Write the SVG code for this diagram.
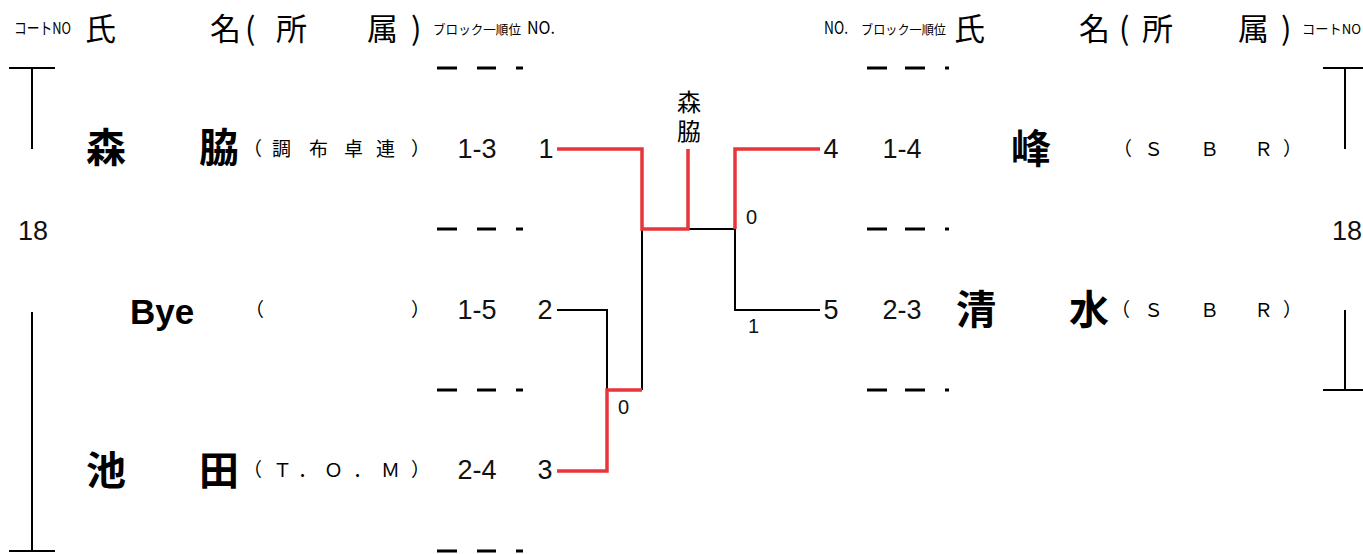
<svg xmlns="http://www.w3.org/2000/svg" width="1363" height="554" viewBox="0 0 1363 554">
<style>
.cjk{font-family:"Noto Sans CJK JP","Noto Sans CJK SC",sans-serif;fill:#000}
.hd{font-size:31px}
.nm{font-size:40px;font-weight:bold}
.af{font-size:19px}
.num{font-family:"Liberation Sans",Arial,sans-serif;font-size:27px;fill:#111;text-anchor:middle}
.lab{font-family:"Liberation Sans",Arial,sans-serif;font-size:20px;fill:#111}
.blk{stroke:#000;stroke-width:2;fill:none}
.red{stroke:#e8353a;stroke-width:3.5;fill:none}
.dash{stroke:#000;stroke-width:3}
</style>
<g id="header">
<text class="cjk" y="40"><tspan x="14" y="34" font-size="16" textLength="57" lengthAdjust="spacingAndGlyphs">コートNO</tspan><tspan class="hd" x="85" y="40">氏</tspan><tspan class="hd" x="210" y="40">名</tspan><tspan class="hd" x="245" y="40">(</tspan><tspan class="hd" x="276" y="40">所</tspan><tspan class="hd" x="367" y="40">属</tspan><tspan class="hd" x="411" y="40">)</tspan><tspan x="433" y="34" font-size="13" textLength="88" lengthAdjust="spacingAndGlyphs">ブロック一順位</tspan><tspan x="527" y="34" font-size="17" textLength="28" lengthAdjust="spacingAndGlyphs">NO.</tspan></text>
<text class="cjk" y="40"><tspan x="824" y="34" font-size="17" textLength="24" lengthAdjust="spacingAndGlyphs">NO.</tspan><tspan x="861" y="34" font-size="13" textLength="85" lengthAdjust="spacingAndGlyphs">ブロック一順位</tspan><tspan class="hd" x="954" y="40">氏</tspan><tspan class="hd" x="1079" y="40">名</tspan><tspan class="hd" x="1119" y="40">(</tspan><tspan class="hd" x="1142" y="40">所</tspan><tspan class="hd" x="1238" y="40">属</tspan><tspan class="hd" x="1281" y="40">)</tspan><tspan x="1302" y="34" font-size="13.5" textLength="59" lengthAdjust="spacingAndGlyphs">コートNO</tspan></text>
</g>
<g id="court-left">
<path class="blk" d="M9 68H55M32 68V149M32 312V551M9 551H55"/>
<text class="num" x="33" y="240">18</text>
</g>
<g id="court-right">
<path class="blk" d="M1323 68H1363M1345 68V149M1345 310V390M1323 390H1363"/>
<text class="num" x="1347" y="240">18</text>
</g>
<g id="separators">
<path class="dash" d="M437 68H457M477 68H496M516 68H523M437 229H457M477 229H496M516 229H523M437 390H457M477 390H496M516 390H523M437 551H457M477 551H496M516 551H523"/>
<path class="dash" d="M867 68H887M905 68H925M945 68H949M867 229H887M905 229H925M945 229H949M867 390H887M905 390H925M945 390H949"/>
</g>
<g id="player-1">
<text class="cjk nm" x="86" y="162">森</text>
<text class="cjk nm" x="199" y="162">脇</text>
<text class="cjk af" y="156"><tspan x="243">（</tspan><tspan x="272">調</tspan><tspan x="309">布</tspan><tspan x="344">卓</tspan><tspan x="376">連</tspan><tspan x="411">）</tspan></text>
<text class="num" x="477" y="158">1-3</text>
<text class="num" x="546" y="158">1</text>
</g>
<g id="player-2">
<text x="130" y="324" font-family="Liberation Sans, Arial, sans-serif" font-size="35" font-weight="bold">Bye</text>
<text class="cjk af" y="317"><tspan x="245">（</tspan><tspan x="411">）</tspan></text>
<text class="num" x="477" y="319">1-5</text>
<text class="num" x="545" y="319">2</text>
</g>
<g id="player-3">
<text class="cjk nm" x="86" y="485">池</text>
<text class="cjk nm" x="199" y="485">田</text>
<text class="cjk af" y="477"><tspan x="243">（</tspan><tspan x="273">Ｔ</tspan><tspan x="298">．</tspan><tspan x="324">Ｏ</tspan><tspan x="353">．</tspan><tspan x="381">Ｍ</tspan><tspan x="411">）</tspan></text>
<text class="num" x="477" y="479">2-4</text>
<text class="num" x="545" y="479">3</text>
</g>
<g id="player-4">
<text class="cjk nm" x="1011" y="163">峰</text>
<text class="cjk af" y="156"><tspan x="1113">（</tspan><tspan x="1144">Ｓ</tspan><tspan x="1200">Ｂ</tspan><tspan x="1254">Ｒ</tspan><tspan x="1283">）</tspan></text>
<text class="num" x="902" y="158">1-4</text>
<text class="num" x="831" y="158">4</text>
</g>
<g id="player-5">
<text class="cjk nm" x="956" y="324">清</text>
<text class="cjk nm" x="1069" y="324">水</text>
<text class="cjk af" y="317"><tspan x="1111">（</tspan><tspan x="1144">Ｓ</tspan><tspan x="1200">Ｂ</tspan><tspan x="1254">Ｒ</tspan><tspan x="1283">）</tspan></text>
<text class="num" x="902" y="319">2-3</text>
<text class="num" x="831" y="319">5</text>
</g>
<g id="winner">
<text class="cjk" font-size="24" x="689" y="90" writing-mode="vertical-rl" letter-spacing="5">森脇</text>
</g>
<g id="connectors">
<path class="blk" d="M557 310H607V390M642 229V390M688 229H735V310H820"/>
<path class="red" d="M557 149H642V229H688V149M735 229V149H820"/>
<path class="red" d="M557 471H607V390H642"/>
<text class="lab" x="746" y="224">0</text>
<text class="lab" x="618" y="414">0</text>
<text class="lab" x="748" y="333">1</text>
</g>
</svg>
